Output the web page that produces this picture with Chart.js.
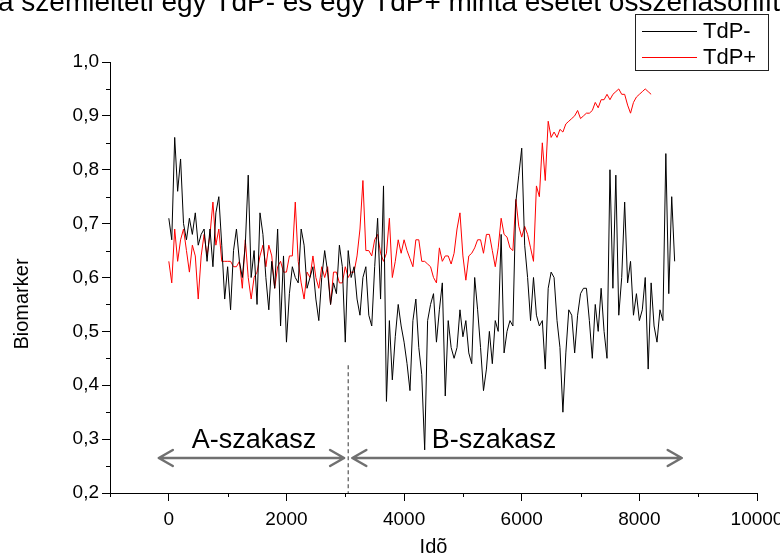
<!DOCTYPE html>
<html><head><meta charset="utf-8">
<script src="https://cdn.jsdelivr.net/npm/chart.js@4.4.0/dist/chart.umd.min.js"></script>
<style>html,body{margin:0;padding:0;background:#fff;}canvas{display:block;}</style>
</head><body>
<canvas id="c" width="780" height="559"></canvas>
<script>
// ---- data ----
const TIME_STEP = 50; // sampling interval of the series (Idő units)
const SERIES_LABELS = ['TdP-', 'TdP+'];
const TDP_MINUS = [
0.71,0.67,0.86,0.76,0.82,0.70,0.67,0.71,0.68,0.72,0.66,0.68,0.69,0.63,0.69,0.62,0.72,0.75,0.66,0.56,
0.62,0.54,0.65,0.69,0.63,0.60,0.66,0.79,0.60,0.65,0.55,0.72,0.68,0.60,0.54,0.63,0.58,0.69,0.51,0.64,
0.48,0.57,0.62,0.60,0.59,0.69,0.66,0.58,0.60,0.62,0.56,0.52,0.60,0.65,0.61,0.55,0.59,0.57,0.66,0.62,
0.48,0.65,0.60,0.62,0.56,0.53,0.60,0.62,0.53,0.51,0.62,0.71,0.56,0.77,0.37,0.52,0.41,0.49,0.55,0.51,
0.48,0.44,0.39,0.52,0.56,0.47,0.42,0.28,0.52,0.55,0.57,0.48,0.54,0.59,0.38,0.52,0.47,0.45,0.47,0.54,
0.49,0.52,0.46,0.44,0.60,0.54,0.47,0.39,0.43,0.50,0.44,0.52,0.50,0.68,0.46,0.50,0.52,0.51,0.74,0.79,
0.84,0.66,0.60,0.52,0.60,0.53,0.51,0.52,0.43,0.58,0.61,0.60,0.52,0.47,0.35,0.46,0.54,0.53,0.46,0.53,
0.57,0.58,0.58,0.52,0.45,0.55,0.50,0.58,0.50,0.45,0.80,0.58,0.79,0.53,0.60,0.74,0.59,0.63,0.53,0.57,
0.52,0.54,0.60,0.43,0.59,0.51,0.48,0.54,0.52,0.83,0.57,0.75,0.63
];
const TDP_PLUS = [
0.63,0.59,0.69,0.63,0.67,0.69,0.65,0.61,0.66,0.64,0.56,0.64,0.68,0.64,0.68,0.74,0.66,0.69,0.63,0.63,
0.63,0.63,0.62,0.62,0.63,0.58,0.67,0.60,0.56,0.60,0.61,0.64,0.66,0.62,0.66,0.64,0.58,0.62,0.63,0.61,
0.61,0.64,0.64,0.74,0.63,0.59,0.56,0.61,0.60,0.64,0.60,0.58,0.62,0.60,0.62,0.55,0.61,0.61,0.59,0.59,
0.62,0.60,0.61,0.61,0.64,0.69,0.78,0.65,0.65,0.64,0.67,0.68,0.645,0.63,0.645,0.71,0.60,0.63,0.67,0.645,
0.67,0.65,0.635,0.62,0.67,0.67,0.63,0.63,0.625,0.62,0.60,0.59,0.655,0.63,0.64,0.64,0.625,0.645,0.69,0.72,
0.64,0.595,0.64,0.645,0.655,0.67,0.67,0.645,0.68,0.68,0.65,0.62,0.655,0.71,0.68,0.675,0.655,0.65,0.745,0.695,
0.675,0.695,0.68,0.655,0.63,0.77,0.75,0.85,0.78,0.89,0.86,0.87,0.86,0.875,0.87,0.885,0.89,0.895,0.90,0.91,
0.895,0.90,0.905,0.905,0.91,0.925,0.915,0.93,0.93,0.94,0.93,0.94,0.945,0.95,0.94,0.94,0.92,0.905,0.925,0.935,
0.94,0.945,0.95,0.945,0.94
];
const X_TICKS = [0, 2000, 4000, 6000, 8000, 10000];
const X_TICK_LABELS = ['0', '2000', '4000', '6000', '8000', '10000'];
const X_MINOR = [-1000, 1000, 3000, 5000, 7000, 9000];
const Y_TICKS = [0.2, 0.3, 0.4, 0.5, 0.6, 0.7, 0.8, 0.9, 1.0];
const Y_TICK_LABELS = ['0,2','0,3','0,4','0,5','0,6','0,7','0,8','0,9','1,0'];
const Y_MINOR = [0.25, 0.35, 0.45, 0.55, 0.65, 0.75, 0.85, 0.95];
const X_TITLE = 'Idõ';
const Y_TITLE = 'Biomarker';
const TOP_TEXT = 'a szemlélteti egy TdP- és egy TdP+ minta esetét összehasonlítva';
const PHASE_LABELS = ['A-szakasz', 'B-szakasz'];
const PHASE_SPLIT = 3050;
const PHASE_A = [-170, 2980];
const PHASE_B = [3120, 8720];
const ARROW_Y = 0.265;
const DASH_TOP = 0.437;
const LABEL_Y = 0.283;

const FONT = '"Liberation Sans", Arial, sans-serif';
const toXY = arr => arr.map((v, i) => ({x: i * TIME_STEP, y: v}));

const minorTicks = {
  id: 'minorTicks',
  afterDraw(chart) {
    const {ctx, scales: {x, y}} = chart;
    ctx.save();
    ctx.strokeStyle = '#000';
    ctx.lineWidth = 1;
    ctx.beginPath();
    X_MINOR.forEach(v => {
      const px = Math.round(x.getPixelForValue(v)) + 0.5;
      ctx.moveTo(px, y.bottom); ctx.lineTo(px, y.bottom + 4);
    });
    Y_MINOR.forEach(v => {
      const py = Math.round(y.getPixelForValue(v)) + 0.5;
      ctx.moveTo(x.left, py); ctx.lineTo(x.left - 4, py);
    });
    ctx.stroke();
    // y title
    ctx.fillStyle = '#000';
    ctx.font = '20px ' + FONT;
    ctx.textAlign = 'center';
    ctx.textBaseline = 'middle';
    ctx.translate(22, 304);
    ctx.rotate(-Math.PI / 2);
    ctx.fillText(Y_TITLE, 0, 0);
    ctx.restore();
    // top text
    ctx.save();
    ctx.fillStyle = '#000';
    ctx.font = '28px ' + FONT;
    ctx.textAlign = 'left';
    ctx.textBaseline = 'alphabetic';
    ctx.fillText(TOP_TEXT, -2, 11);
    ctx.restore();
  }
};

const phases = {
  id: 'phases',
  afterDatasetsDraw(chart) {
    const {ctx, scales: {x, y}} = chart;
    ctx.save();
    const sx = x.getPixelForValue(PHASE_SPLIT);
    ctx.strokeStyle = '#555';
    ctx.lineWidth = 1.2;
    ctx.setLineDash([4, 3]);
    ctx.beginPath();
    ctx.moveTo(sx, y.getPixelForValue(DASH_TOP));
    ctx.lineTo(sx, y.bottom);
    ctx.stroke();
    ctx.setLineDash([]);
    const ay = y.getPixelForValue(ARROW_Y);
    ctx.strokeStyle = '#707070';
    ctx.lineWidth = 2.5;
    ctx.lineCap = 'round';
    ctx.lineJoin = 'round';
    [PHASE_A, PHASE_B].forEach(([a, b]) => {
      const x1 = x.getPixelForValue(a), x2 = x.getPixelForValue(b);
      ctx.beginPath();
      ctx.moveTo(x1, ay); ctx.lineTo(x2, ay);
      ctx.moveTo(x1 + 14, ay - 8); ctx.lineTo(x1, ay); ctx.lineTo(x1 + 14, ay + 8);
      ctx.moveTo(x2 - 14, ay - 8); ctx.lineTo(x2, ay); ctx.lineTo(x2 - 14, ay + 8);
      ctx.stroke();
    });
    ctx.fillStyle = '#000';
    ctx.font = '27px ' + FONT;
    ctx.textAlign = 'center';
    ctx.textBaseline = 'alphabetic';
    const ly = y.getPixelForValue(LABEL_Y);
    ctx.fillText(PHASE_LABELS[0], x.getPixelForValue(1450), ly);
    ctx.fillText(PHASE_LABELS[1], x.getPixelForValue(5530), ly);
    ctx.restore();
  }
};

const boxLegend = {
  id: 'boxLegend',
  afterDraw(chart) {
    const {ctx} = chart;
    ctx.save();
    ctx.strokeStyle = '#222';
    ctx.lineWidth = 1;
    ctx.strokeRect(635.5, 14.5, 133, 56);
    ctx.font = '22px ' + FONT;
    ctx.textBaseline = 'middle';
    ctx.textAlign = 'left';
    chart.data.datasets.forEach((ds, i) => {
      const yy = 31 + i * 26;
      ctx.strokeStyle = ds.borderColor;
      ctx.beginPath();
      ctx.moveTo(642, yy + 0.5); ctx.lineTo(697, yy + 0.5);
      ctx.stroke();
      ctx.fillStyle = '#000';
      ctx.fillText(ds.label, 703, yy + 1);
    });
    ctx.restore();
  }
};

new Chart(document.getElementById('c'), {
  type: 'line',
  data: {
    datasets: [
      {label: SERIES_LABELS[0], data: toXY(TDP_MINUS), borderColor: '#000000', borderWidth: 1, pointRadius: 0, tension: 0, fill: false},
      {label: SERIES_LABELS[1], data: toXY(TDP_PLUS), borderColor: '#ff0000', borderWidth: 1, pointRadius: 0, tension: 0, fill: false}
    ]
  },
  options: {
    responsive: false,
    animation: false,
    layout: {padding: {top: 62, right: 23, left: 0, bottom: 0}},
    scales: {
      x: {
        type: 'linear', min: -1000, max: 10000,
        afterBuildTicks: s => { s.ticks = X_TICKS.map(v => ({value: v})); },
        afterFit: s => { s.height = 66; s.paddingLeft = 0; s.paddingRight = 0; },
        grid: {display: true, drawOnChartArea: false, drawTicks: true, tickLength: 8, color: '#000'},
        border: {display: true, color: '#000', width: 1},
        ticks: {color: '#000', font: {family: FONT, size: 19}, padding: 7, maxRotation: 0, autoSkip: false,
          callback: (v) => X_TICK_LABELS[X_TICKS.indexOf(v)]},
        title: {display: true, text: X_TITLE, color: '#000', font: {family: FONT, size: 20}, padding: {top: 0, bottom: 0}}
      },
      y: {
        type: 'linear', min: 0.2, max: 1.0,
        afterBuildTicks: s => { s.ticks = Y_TICKS.map(v => ({value: v})); },
        afterFit: s => { s.width = 110; s.paddingTop = 0; s.paddingBottom = 0; },
        grid: {display: true, drawOnChartArea: false, drawTicks: true, tickLength: 8, color: '#000'},
        border: {display: true, color: '#000', width: 1},
        ticks: {color: '#000', font: {family: FONT, size: 19}, padding: 3, autoSkip: false,
          callback: (v) => Y_TICK_LABELS[Y_TICKS.findIndex(t => Math.abs(t - v) < 1e-9)]}
      }
    },
    plugins: {legend: {display: false}, tooltip: {enabled: false}, title: {display: false}}
  },
  plugins: [minorTicks, phases, boxLegend]
});
</script>
</body></html>
